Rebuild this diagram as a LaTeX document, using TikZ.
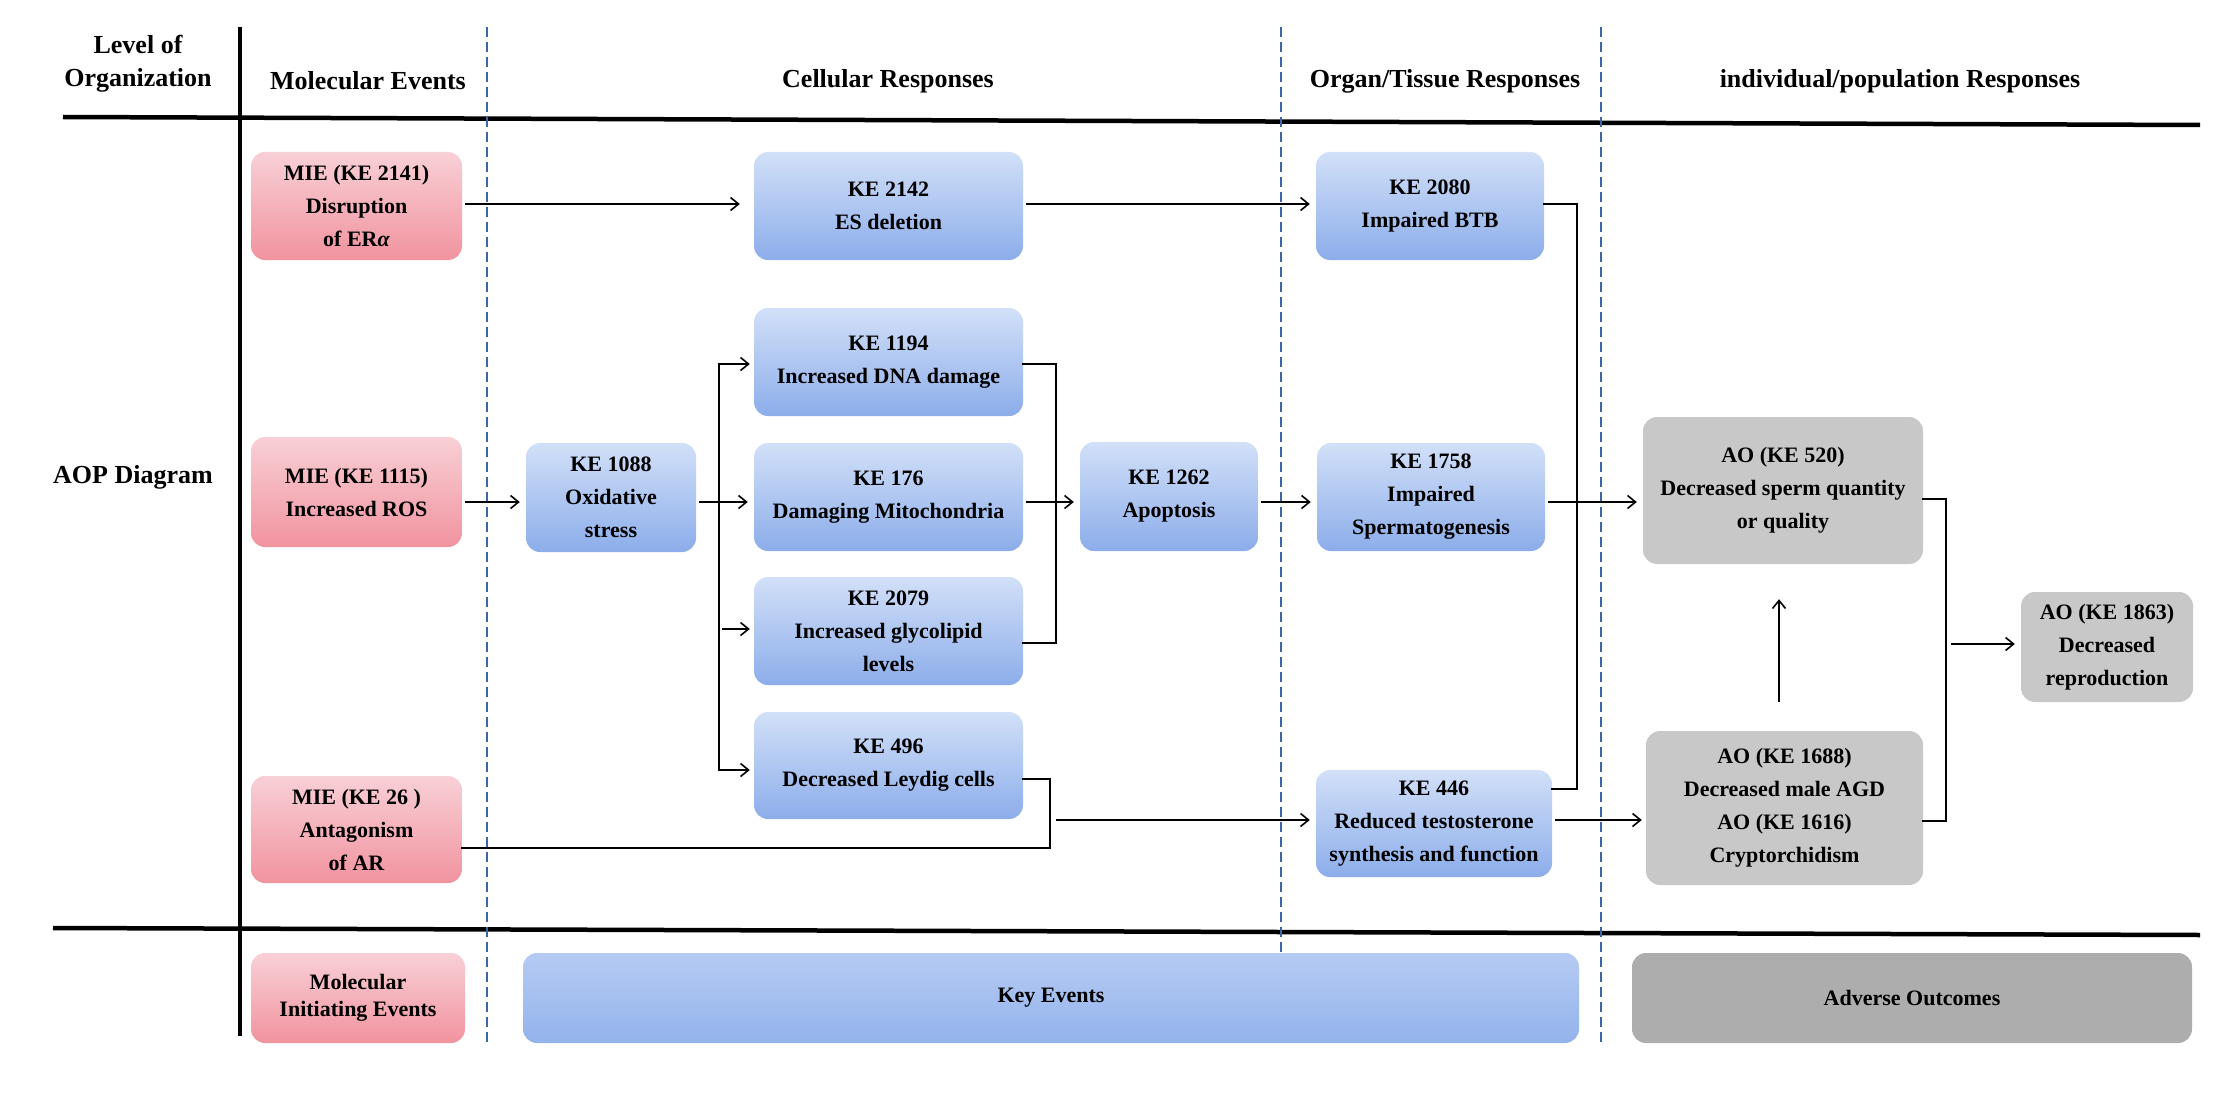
\documentclass[tikz,border=0pt]{standalone}
\usepackage{fontspec}
\setmainfont{Liberation Serif}
\usetikzlibrary{arrows.meta}
\definecolor{pinkT}{HTML}{F8D0D6}
\definecolor{pinkB}{HTML}{F1939F}
\definecolor{blueT}{HTML}{D2E0F8}
\definecolor{blueB}{HTML}{8CADEA}
\definecolor{blueLT}{HTML}{B6CBF3}
\definecolor{blueLB}{HTML}{93B3EC}
\definecolor{grayAO}{HTML}{C8C8C8}
\definecolor{grayLeg}{HTML}{ADADAD}
\definecolor{dashblue}{HTML}{3D66A8}
\begin{document}
\begin{tikzpicture}[x=1pt,y=-1pt,
  box/.style={rounded corners=14pt, align=center, inner sep=0pt,
    font=\fontsize{22}{33}\selectfont\bfseries},
  mie/.style={box, top color=pinkT, bottom color=pinkB},
  keb/.style={box, top color=blueT, bottom color=blueB},
  aob/.style={box, fill=grayAO},
  hdr/.style={align=center, inner sep=0pt, font=\fontsize{26}{33}\selectfont\bfseries},
  lnk/.style={line width=1.8pt, line cap=rect},
  arr/.style={line width=1.8pt, -{Straight Barb[length=8pt,width=13pt,line width=1.6pt]},
    shorten <=3pt, shorten >=6pt},
  sepline/.style={line width=4.5pt},
  dashsep/.style={line width=1.5pt, dashblue, dash pattern=on 10pt off 5pt}
]
\useasboundingbox (0,0) rectangle (2238,1094);
\fill[white] (0,0) rectangle (2238,1094);

% separators
\coordinate (t1) at (63,117); \coordinate (t2) at (2200,125);
\coordinate (s1) at (53,928); \coordinate (s2) at (2200,935);
\coordinate (v1) at (240,27); \coordinate (v2) at (240,1036);
\draw[sepline] (t1) -- (t2);
\draw[sepline] (s1) -- (s2);
\draw[line width=3.5pt] (v1) -- (v2);
\coordinate (d1a) at (487,27); \coordinate (d1b) at (487,1045);
\coordinate (d2a) at (1281,27); \coordinate (d2b) at (1281,1045);
\coordinate (d3a) at (1601,27); \coordinate (d3b) at (1601,1045);
\draw[dashsep] (d1a) -- (d1b);
\draw[dashsep] (d2a) -- (d2b);
\draw[dashsep] (d3a) -- (d3b);

% headers
\node[hdr] (hlev) at (138,64) {Level of\\Organization};
\node[hdr] (hmol) at (368,81) {Molecular Events};
\node[hdr] (hcel) at (888,81) {Cellular Responses};
\node[hdr] (horg) at (1445,81) {Organ/Tissue Responses};
\node[hdr] (hind) at (1900,81) {individual/population Responses};
\node[hdr] (haop) at (133,477) {AOP Diagram};

% MIE boxes
\node[mie, minimum width=211pt, minimum height=108pt] (mie2141) at (356.5,206)
  {MIE (KE 2141)\\Disruption\\of ER{\itshape α}};
\node[mie, minimum width=211pt, minimum height=110pt] (mie1115) at (356.5,492)
  {MIE (KE 1115)\\Increased ROS};
\node[mie, minimum width=211pt, minimum height=107pt] (mie26) at (356.5,829.5)
  {MIE (KE 26 )\\Antagonism\\of AR};

% KE boxes
\node[keb, minimum width=269pt, minimum height=108pt] (ke2142) at (888.5,206)
  {KE 2142\\ES deletion};
\node[keb, minimum width=269pt, minimum height=108pt] (ke1194) at (888.5,362)
  {KE 1194\\Increased DNA damage};
\node[keb, minimum width=269pt, minimum height=108pt] (ke176) at (888.5,497)
  {KE 176\\Damaging Mitochondria};
\node[keb, minimum width=269pt, minimum height=108pt] (ke2079) at (888.5,631)
  {KE 2079\\Increased glycolipid\\levels};
\node[keb, minimum width=269pt, minimum height=107pt] (ke496) at (888.5,765.5)
  {KE 496\\Decreased Leydig cells};
\node[keb, minimum width=170pt, minimum height=109pt] (ke1088) at (611,497.5)
  {KE 1088\\Oxidative\\stress};
\node[keb, minimum width=178pt, minimum height=109pt] (ke1262) at (1169,496.5)
  {KE 1262\\Apoptosis};
\node[keb, minimum width=228pt, minimum height=108pt] (ke2080) at (1430,206)
  {KE 2080\\Impaired BTB};
\node[keb, minimum width=228pt, minimum height=108pt] (ke1758) at (1431,497)
  {KE 1758\\Impaired\\Spermatogenesis};
\node[keb, minimum width=236pt, minimum height=107pt] (ke446) at (1434,823.5)
  {KE 446\\Reduced testosterone\\synthesis and function};

% AO boxes
\node[aob, minimum width=280pt, minimum height=147pt] (ao520) at (1783,490.5)
  {AO (KE 520)\\Decreased sperm quantity\\or quality};
\node[aob, minimum width=277pt, minimum height=154pt] (ao1688) at (1784.5,808)
  {AO (KE 1688)\\Decreased male AGD\\AO (KE 1616)\\Cryptorchidism};
\node[aob, minimum width=172pt, minimum height=110pt] (ao1863) at (2107,647)
  {AO (KE 1863)\\Decreased\\reproduction};

% legend
\node[mie, minimum width=214pt, minimum height=90pt, font=\fontsize{22}{27}\selectfont\bfseries]
  (legmie) at (358,998) {Molecular\\Initiating Events};
\node[box, top color=blueLT, bottom color=blueLB, minimum width=1056pt, minimum height=90pt]
  (legke) at (1051,998) {Key Events};
\node[box, fill=grayLeg, minimum width=560pt, minimum height=90pt]
  (legao) at (1912,998) {Adverse Outcomes};

% connector coordinates
\coordinate (r1) at (0,204);
\coordinate (r2) at (0,502);
\coordinate (r4) at (0,820);
\coordinate (b1) at (719,364);
\coordinate (b2) at (722,629);
\coordinate (b3) at (719,770);
\coordinate (m1) at (1056,364);
\coordinate (m2) at (1056,643);
\coordinate (l1) at (1050,779);
\coordinate (l2) at (1050,848);
\coordinate (l3) at (1056,820);
\coordinate (k1) at (1577,204);
\coordinate (k2) at (1577,789);
\coordinate (a1) at (1946,499);
\coordinate (a2) at (1946,821);
\coordinate (a3) at (1951,644);
\coordinate (ux) at (1779,0);

% row 1
\draw[arr, shorten >=14pt] (mie2141.east |- r1) -- (ke2142.west |- r1);
\draw[arr] (ke2142.east |- r1) -- (ke2080.west |- r1);
% row 2
\draw[arr] (mie1115.east |- r2) -- (ke1088.west |- r2);
\draw[arr] (ke1088.east |- r2) -- (ke176.west |- r2);
\draw[arr] (ke176.east |- r2) -- (ke1262.west |- r2);
\draw[arr] (ke1262.east |- r2) -- (ke1758.west |- r2);
\draw[arr] (ke1758.east |- r2) -- (ao520.west |- r2);
% branch from oxidative stress
\draw[lnk] (b1) -- (b3);
\draw[arr, shorten <=0pt, shorten >=4pt] (b1) -- (ke1194.west |- b1);
\draw[arr, shorten <=0pt, shorten >=4pt] (b2) -- (ke2079.west |- b2);
\draw[arr, shorten <=0pt, shorten >=4pt] (b3) -- (ke496.west |- b3);
% merge into apoptosis
\draw[lnk] (ke1194.east |- m1) -- (m1) -- (m2) -- (ke2079.east |- m2);
% Leydig / AR bracket to KE 446
\draw[lnk] (ke496.east |- l1) -- (l1) -- (l2) -- (mie26.east |- l2);
\draw[arr, shorten <=0pt] (l3) -- (ke446.west |- l3);
% KE 2080 to KE 446 bracket
\draw[lnk] (ke2080.east |- k1) -- (k1) -- (k2) -- (ke446.east |- k2);
% KE 446 to AO 1688
\draw[arr, shorten >=4pt] (ke446.east |- r4) -- (ao1688.west |- r4);
% AO 1688 up to AO 520
\draw[arr, shorten <=29pt, shorten >=35pt] (ao1688.north -| ux) -- (ao520.south -| ux);
% AO bracket to AO 1863
\draw[lnk] (ao520.east |- a1) -- (a1) -- (a2) -- (ao1688.east |- a2);
\draw[arr, shorten <=0pt] (a3) -- (ao1863.west |- a3);
\end{tikzpicture}
\end{document}
